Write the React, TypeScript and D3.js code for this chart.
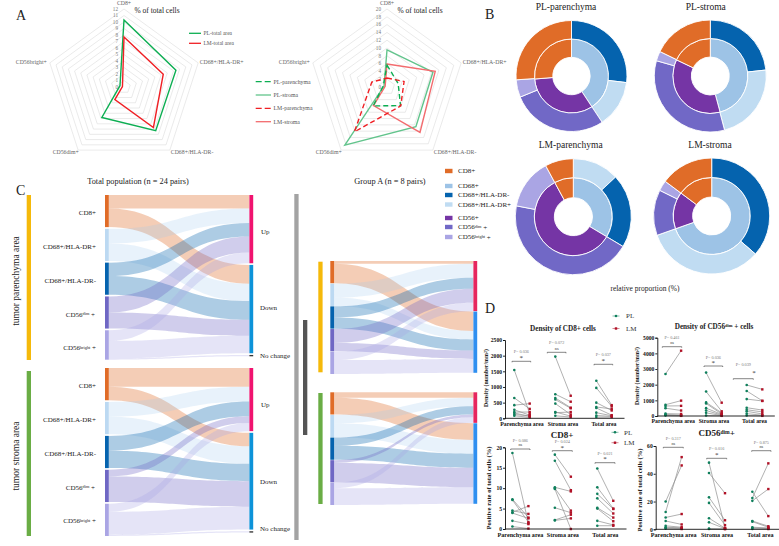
import { useEffect, useRef } from 'react';
import * as d3 from 'd3';

const SERIF = '"Liberation Serif", serif';

// radar data
const radarAxes = ['CD8+', 'CD68+/HLA-DR+', 'CD68+/HLA-DR-', 'CD56dim+', 'CD56bright+'];
const plTotal = [10.3, 8.4, 8.3, 5.8, 0.65];
const lmTotal = [7.7, 6.35, 7.7, 2.4, 0.25];
const plParenchyma = [5.6, 3, 5.9, 6, 1];
const plStroma = [9.5, 12.4, 12.6, 18.4, 0.8];
const lmParenchyma = [2.3, 4.6, 6, 14.2, 4.1];
const lmStroma = [5.9, 13, 14.4, 5.9, 0.5];

// donut data, percent
const outerOrder = ['dr-', 'dr+', 'dim', 'bright', 'cd8'];
const lmParOuterOrder = ['dr+', 'dr-', 'dim', 'bright', 'cd8'];
const innerOrder = ['cd68', 'cd56', 'cd8'];
const plParOuter = [26.9, 13.8, 28.1, 5.1, 26.1];
const plParInner = [40.7, 33, 26.3];
const plStrOuter = [23.3, 22.6, 33.5, 2.8, 17.8];
const plStrInner = [45.8, 36.3, 17.9];
const lmParOuter = [13, 20.6, 44.4, 14.1, 7.9];
const lmParInner = [33.6, 58.5, 7.9];
const lmStrOuter = [36.4, 33.2, 12.7, 2.9, 14.8];
const lmStrInner = [69.6, 15.6, 14.8];

// sankey data, number of pairs per cell subset
const totalParUp = [10, 11, 10, 12, 8];
const totalParDown = [14, 13, 14, 12, 13];
const totalParNone = [0, 0, 0, 0, 1];
const totalStrUp = [14, 11, 11, 5, 6];
const totalStrDown = [10, 13, 13, 19, 17];
const totalStrNone = [0, 0, 0, 0, 1];
const groupParUp = [1, 5, 4, 5, 3];
const groupParDown = [7, 3, 4, 3, 5];
const groupStrUp = [2, 3, 3, 1, 2];
const groupStrDown = [6, 5, 5, 7, 6];

// paired dot plots
const areas = ['Parenchyma area', 'Stroma area', 'Total area'];
const densityCd8PL = [
  [1540, 650, 420, 270, 200, 170, 120, 80],
  [1970, 770, 650, 600, 470, 200, 180, 80],
  [1200, 970, 500, 360, 330, 180, 90, 40],
];
const densityCd8LM = [
  [150, 300, 470, 100, 200, 60, 80, 30],
  [720, 530, 340, 320, 120, 70, 200, 40],
  [420, 380, 250, 300, 100, 80, 60, 40],
];
const densityDimPL = [
  [2680, 720, 640, 500, 150, 90, 60, 30],
  [2770, 1560, 870, 800, 500, 350, 200, 30],
  [1980, 1600, 1080, 530, 400, 300, 150, 30],
];
const densityDimLM = [
  [4170, 980, 650, 350, 130, 50, 30, 10],
  [850, 300, 200, 130, 100, 60, 30, 10],
  [1700, 970, 960, 380, 260, 130, 50, 10],
];
const rateCd8PL = [
  [18.6, 7.3, 7.1, 4.5, 4.1, 3.9, 2, 0.6],
  [18.2, 16.7, 10.2, 10, 9.8, 5.2, 2.2, 2.1],
  [14.8, 10.2, 8.6, 7.5, 5.2, 5, 2, 0.8],
];
const rateCd8LM = [
  [1.4, 2.8, 1.7, 3.7, 5.6, 2.6, 1.2, 0.1],
  [12.8, 9.5, 9.2, 4.5, 0, 4, 3.5, 2.6],
  [6.9, 5, 4.9, 3.8, 2.8, 1.9, 1, 0.8],
];
const rateDimPL = [
  [20, 12.5, 8.5, 6, 2.5, 1.5, 1, 0.5],
  [48, 40.5, 23, 19, 8, 5, 0.5, 0.2],
  [27, 22.5, 20.5, 6, 5.5, 1.5, 1, 0.3],
];
const rateDimLM = [
  [46, 52, 11, 3.5, 1.5, 1, 0.7, 0.2],
  [1, 26, 6.5, 3, 0.8, 0.5, 0.3, 0.1],
  [9.5, 47.5, 29, 2.2, 1.5, 1, 0.5, 0.2],
];

const sliceColor: Record<string, string> = {
  cd8: '#e06c28',
  cd68: '#9dc3e6',
  'dr-': '#0563ae',
  'dr+': '#c0dcf2',
  cd56: '#7535a5',
  dim: '#7168c6',
  bright: '#aaa5e4',
};
const sankeyNodeColor = ['#e06c28', '#bcd9f2', '#0563ae', '#6f67c4', '#aaa5e4'];
const sankeyLinkColor = ['#e06c28', '#9fc9ee', '#0563ae', '#7168c6', '#aaa5e4'];
const sankeyLinkOpacity = [0.34, 0.24, 0.33, 0.33, 0.3];

type Svg = d3.Selection<SVGSVGElement, unknown, null, undefined>;
type G = d3.Selection<any, unknown, null, undefined>;

function label(g: G, x: number, y: number, text: string, size: number, anchor = 'start', fill = '#222', weight = 'normal') {
  return g
    .append('text')
    .attr('x', x)
    .attr('y', y)
    .attr('dy', '0.35em')
    .attr('text-anchor', anchor)
    .attr('font-family', SERIF)
    .attr('font-size', size)
    .attr('font-weight', weight)
    .attr('fill', fill)
    .text(text);
}

// text with a raised part, e.g. CD56 dim +
function supLabel(g: G, x: number, y: number, base: string, sup: string, tail: string, size: number, anchor = 'start', weight = 'normal') {
  const t = label(g, x, y, base, size, anchor, '#222', weight);
  t.append('tspan').attr('dy', '-0.35em').attr('font-size', size * 0.62).text(sup);
  t.append('tspan').attr('dy', '0.25em').text(tail);
  return t;
}

function drawRadar(svg: Svg, cx: number, cy: number, radius: number, max: number, step: number, series: { values: number[]; color: string; dashed: boolean }[]) {
  const g = svg.append('g').attr('transform', `translate(${cx},${cy})`);
  const r = d3.scaleLinear().domain([0, max]).range([0, radius]);
  const angle = d3.scaleLinear().domain([0, radarAxes.length]).range([0, 2 * Math.PI]);
  const ring = d3
    .lineRadial<number>()
    .angle((_, i) => angle(i))
    .radius(d => r(d))
    .curve(d3.curveLinearClosed);

  d3.range(step, max + step, step).forEach(level => {
    g.append('path')
      .attr('d', ring(radarAxes.map(() => level)))
      .attr('fill', 'none')
      .attr('stroke', '#dcdcdc')
      .attr('stroke-width', 0.6);
  });
  d3.range(0, max + step, step).forEach(level => {
    label(g, -6, -r(level), String(level), 5.2, 'end', '#777');
  });
  series.forEach(s => {
    g.append('path')
      .attr('d', ring(s.values))
      .attr('fill', 'none')
      .attr('stroke', s.color)
      .attr('stroke-width', 1.4)
      .attr('stroke-dasharray', s.dashed ? '5 3' : null);
  });
  label(g, 0, -radius - 6, radarAxes[0], 5.8, 'middle', '#666');
  label(g, radius * 0.97, -radius * 0.32, radarAxes[1], 5.8, 'start', '#666');
  label(g, radius * 0.6, radius * 0.83, radarAxes[2], 5.8, 'start', '#666');
  label(g, -radius * 0.58, radius * 0.83, radarAxes[3], 5.8, 'end', '#666');
  label(g, -radius * 0.99, -radius * 0.32, radarAxes[4], 5.8, 'end', '#666');
}

function radarLegend(svg: Svg, x0: number, x1: number, ys: number[], entries: { name: string; color: string; dashed: boolean }[], size: number) {
  entries.forEach((e, i) => {
    svg
      .append('line')
      .attr('x1', x0)
      .attr('x2', x1)
      .attr('y1', ys[i])
      .attr('y2', ys[i])
      .attr('stroke', e.color)
      .attr('stroke-width', 1.3)
      .attr('stroke-dasharray', e.dashed ? '6 3' : null);
    label(svg as any, x1 + 2.5, ys[i], e.name, size, 'start', '#555');
  });
}

function drawDonut(svg: Svg, cx: number, cy: number, r0: number, r1: number, r2: number, title: string, titleX: number, titleY: number, inner: number[], outer: number[], outerKeys: string[]) {
  const g = svg.append('g').attr('transform', `translate(${cx},${cy})`);
  const pie = d3.pie<number>().sort(null);
  const innerArc = d3.arc<d3.PieArcDatum<number>>().innerRadius(r0).outerRadius(r1);
  const outerArc = d3.arc<d3.PieArcDatum<number>>().innerRadius(r1).outerRadius(r2);
  g.selectAll('.inner')
    .data(pie(inner))
    .enter()
    .append('path')
    .attr('d', innerArc)
    .attr('fill', (_, i) => sliceColor[innerOrder[i]])
    .attr('stroke', '#fff')
    .attr('stroke-width', 0.9);
  g.selectAll('.outer')
    .data(pie(outer))
    .enter()
    .append('path')
    .attr('d', outerArc)
    .attr('fill', (_, i) => sliceColor[outerKeys[i]])
    .attr('stroke', '#fff')
    .attr('stroke-width', 0.9);
  label(svg as any, titleX, titleY, title, 9.5, 'middle', '#222');
}

function drawSankey(svg: Svg, x0: number, x1: number, top: number, bottom: number, gap: number, up: number[], down: number[], none: number[], upColor: string, downColor: string) {
  const nodeW = 3.8;
  const counts = [up, down, none];
  const targetSums = counts.map(c => d3.sum(c)).filter(v => v > 0);
  const total = d3.sum(targetSums);
  const sourceSums = up.map((_, i) => up[i] + down[i] + none[i]);
  const k = (bottom - top - gap * (up.length - 1)) / total;
  const h = d3.scaleLinear().domain([0, total]).range([0, total * k]);
  const area = d3
    .area<{ x: number; y0: number; y1: number }>()
    .x(d => d.x)
    .y0(d => d.y0)
    .y1(d => d.y1)
    .curve(d3.curveBumpX);

  const sourceTop: number[] = [];
  let y = top;
  sourceSums.forEach(v => {
    sourceTop.push(y);
    y += h(v) + gap;
  });
  const targetTop: number[] = [];
  y = top;
  targetSums.forEach(v => {
    targetTop.push(y);
    y += h(v) + gap;
  });

  const sourceUsed = sourceSums.map(() => 0);
  const targetUsed = targetSums.map(() => 0);
  up.forEach((_, s) => {
    counts.forEach((c, t) => {
      const v = c[s];
      if (!v) return;
      const sy = sourceTop[s] + sourceUsed[s];
      const ty = targetTop[t] + targetUsed[t];
      sourceUsed[s] += h(v);
      targetUsed[t] += h(v);
      svg
        .append('path')
        .attr(
          'd',
          area([
            { x: x0 + nodeW, y0: sy, y1: sy + h(v) },
            { x: x1, y0: ty, y1: ty + h(v) },
          ])
        )
        .attr('fill', sankeyLinkColor[s])
        .attr('fill-opacity', sankeyLinkOpacity[s]);
    });
  });
  sourceSums.forEach((v, s) => {
    svg.append('rect').attr('x', x0).attr('y', sourceTop[s]).attr('width', nodeW).attr('height', h(v)).attr('fill', sankeyNodeColor[s]);
  });
  const targetColors = [upColor, downColor, '#333'];
  targetSums.forEach((v, t) => {
    svg.append('rect').attr('x', x1).attr('y', targetTop[t]).attr('width', nodeW).attr('height', h(v)).attr('fill', targetColors[t]);
  });
}

function sankeyLabels(svg: Svg, top: number, step: number, upY: number, downY: number, noneY: number) {
  const g = svg as any;
  label(g, 96, top, 'CD8+', 7, 'end');
  label(g, 96, top + step, 'CD68+/HLA-DR+', 7, 'end');
  label(g, 96, top + step * 2, 'CD68+/HLA-DR-', 7, 'end');
  supLabel(g, 95, top + step * 3, 'CD56', 'dim', ' +', 7, 'end');
  supLabel(g, 96, top + step * 4, 'CD56', 'bright', ' +', 7, 'end');
  label(g, 261, upY, 'Up', 7);
  label(g, 260, downY, 'Down', 7);
  label(g, 260, noneY, 'No change', 7);
}

interface PairedOpts {
  left: number;
  right: number;
  axisX: number;
  yTop: number;
  yBottom: number;
  max: number;
  ticks: number[];
  offset: number;
  labelY: number;
  labelSize: number;
  pl: number[][];
  lm: number[][];
  notes: { p: string; mark: string; pY: number; markY: number; barY: number; barX0: number; barX1: number; markX?: number }[];
}

function drawPaired(svg: Svg, o: PairedOpts) {
  const g = svg.append('g');
  const x = d3.scaleBand().domain(areas).range([o.left, o.right]);
  const side = d3.scalePoint().domain(['PL', 'LM']).range([-o.offset, o.offset]);
  const y = d3.scaleLinear().domain([0, o.max]).range([o.yBottom, o.yTop]);
  const cx = (i: number) => (x(areas[i]) ?? 0) + x.bandwidth() / 2;

  o.pl.forEach((vals, a) => {
    vals.forEach((v, j) => {
      g.append('line')
        .attr('x1', cx(a) + (side('PL') ?? 0))
        .attr('x2', cx(a) + (side('LM') ?? 0))
        .attr('y1', y(v))
        .attr('y2', y(o.lm[a][j]))
        .attr('stroke', '#8f8f8f')
        .attr('stroke-width', 0.7);
    });
    g.selectAll(`.pl${a}`)
      .data(vals)
      .enter()
      .append('circle')
      .attr('cx', cx(a) + (side('PL') ?? 0))
      .attr('cy', d => y(d))
      .attr('r', 1.3)
      .attr('fill', '#0f7f5c');
    g.selectAll(`.lm${a}`)
      .data(o.lm[a])
      .enter()
      .append('rect')
      .attr('x', cx(a) + (side('LM') ?? 0) - 1.2)
      .attr('y', d => y(d) - 1.2)
      .attr('width', 2.4)
      .attr('height', 2.4)
      .attr('fill', '#b01227');
  });

  const yAxis = g
    .append('g')
    .attr('transform', `translate(${o.axisX},0)`)
    .call(d3.axisLeft(y).tickValues(o.ticks).tickSize(2).tickPadding(1).tickFormat(d3.format('d')));
  yAxis.selectAll('text').attr('font-family', SERIF).attr('font-weight', 'bold').attr('font-size', 5.6).attr('fill', '#111');
  yAxis.selectAll('path,line').attr('stroke', '#111').attr('stroke-width', 0.9);
  g.append('line').attr('x1', o.axisX).attr('x2', Math.min(o.right, 779)).attr('y1', o.yBottom).attr('y2', o.yBottom).attr('stroke', '#111').attr('stroke-width', 0.9);
  areas.forEach((name, i) => label(g as any, cx(i), o.labelY, name, o.labelSize, 'middle', '#111', 'bold'));

  o.notes.forEach(n => {
    const mid = (n.barX0 + n.barX1) / 2;
    label(g as any, mid, n.pY, n.p, 4.2, 'middle', '#777');
    label(g as any, n.markX ?? mid, n.markY, n.mark, n.mark === '*' ? 7 : 4.2, 'middle', '#333');
    g.append('path')
      .attr('d', `M${n.barX0},${n.barY + 1}V${n.barY}H${n.barX1}V${n.barY + 1}`)
      .attr('fill', 'none')
      .attr('stroke', '#333')
      .attr('stroke-width', 0.6);
  });
}

function dotLegend(svg: Svg, x: number, textX: number, plY: number, lmY: number) {
  const g = svg as any;
  svg.append('line').attr('x1', x - 3.5).attr('x2', x + 3.5).attr('y1', plY).attr('y2', plY).attr('stroke', '#0f7f5c').attr('stroke-width', 0.5);
  svg.append('circle').attr('cx', x).attr('cy', plY).attr('r', 1.3).attr('fill', '#0f7f5c');
  svg.append('line').attr('x1', x - 3.5).attr('x2', x + 3.5).attr('y1', lmY).attr('y2', lmY).attr('stroke', '#b01227').attr('stroke-width', 0.5);
  svg.append('rect').attr('x', x - 1.2).attr('y', lmY - 1.2).attr('width', 2.4).attr('height', 2.4).attr('fill', '#b01227');
  label(g, textX, plY, 'PL', 7, 'start', '#333');
  label(g, textX, lmY, 'LM', 7, 'start', '#333');
}

function rotated(svg: Svg, x: number, y: number, text: string, size: number, weight = 'normal') {
  label(svg as any, 0, 0, text, size, 'middle', '#222', weight).attr('transform', `translate(${x},${y}) rotate(-90)`);
}

export default function App() {
  const svgRef = useRef<SVGSVGElement>(null);

  useEffect(() => {
    if (!svgRef.current) return;
    const svg = d3.select(svgRef.current) as Svg;
    svg.selectAll('*').remove();
    const root = svg as any;

    // panel letters
    label(root, 16, 15, 'A', 14);
    label(root, 485, 14, 'B', 14);
    label(root, 16, 190, 'C', 14);
    label(root, 485, 308, 'D', 14);

    // A: radars
    const green = '#0cae52';
    const red = '#f01f24';
    const softGreen = '#62c48c';
    const softRed = '#f36b6e';
    drawRadar(svg, 124, 87, 78, 12, 1, [
      { values: plTotal, color: green, dashed: false },
      { values: lmTotal, color: red, dashed: false },
    ]);
    label(root, 157, 10, '% of total cells', 7.5, 'middle');
    radarLegend(svg, 189, 201, [33.3, 43.3], [
      { name: 'PL-total area', color: green, dashed: false },
      { name: 'LM-total area', color: red, dashed: false },
    ], 5.5);

    drawRadar(svg, 387, 87, 78, 20, 2, [
      { values: plStroma, color: softGreen, dashed: false },
      { values: lmStroma, color: softRed, dashed: false },
      { values: plParenchyma, color: green, dashed: true },
      { values: lmParenchyma, color: red, dashed: true },
    ]);
    label(root, 420, 10, '% of total cells', 7.5, 'middle');
    radarLegend(svg, 255.7, 271, [81.7, 95, 108.3, 121.7], [
      { name: 'PL-parenchyma', color: green, dashed: true },
      { name: 'PL-stroma', color: softGreen, dashed: false },
      { name: 'LM-parenchyma', color: red, dashed: true },
      { name: 'LM-stroma', color: softRed, dashed: false },
    ], 5.8);

    // B: donuts
    drawDonut(svg, 571.5, 76, 18.7, 37, 55.5, 'PL-parenchyma', 566, 6.7, plParInner, plParOuter, outerOrder);
    drawDonut(svg, 710.3, 76, 19, 37.5, 56, 'PL-stroma', 705.7, 6.7, plStrInner, plStrOuter, outerOrder);
    drawDonut(svg, 573.3, 216.7, 19, 39, 58, 'LM-parenchyma', 570.7, 144.3, lmParInner, lmParOuter, lmParOuterOrder);
    drawDonut(svg, 711.7, 216, 19, 38.5, 58, 'LM-stroma', 710, 144.3, lmStrInner, lmStrOuter, outerOrder);
    label(root, 645, 288, 'relative proportion (%)', 7.5, 'middle');

    // donut / sankey legend
    const legendRows: [string, string, string, string, number][] = [
      ['cd8', 'CD8+', '', '', 171],
      ['cd68', 'CD68+', '', '', 186],
      ['dr-', 'CD68+/HLA-DR-', '', '', 195],
      ['dr+', 'CD68+/HLA-DR+', '', '', 204.5],
      ['cd56', 'CD56+', '', '', 218],
      ['dim', 'CD56', 'dim', ' +', 227],
      ['bright', 'CD56', 'bright', ' +', 237],
    ];
    legendRows.forEach(([key, base, sup, tail, y]) => {
      svg.append('rect').attr('x', 445).attr('y', y - 2.2).attr('width', 7.5).attr('height', 4.4).attr('fill', sliceColor[key]);
      if (sup) supLabel(root, 458, y, base, sup, tail, 7);
      else label(root, 458, y, base, 7);
    });

    // C: sankeys
    label(root, 138, 180.7, 'Total population (n = 24 pairs)', 8.3, 'middle');
    label(root, 390, 180.7, 'Group A (n = 8 pairs)', 8.3, 'middle');
    const yellow = '#f5b90a';
    const bar = '#6aad45';
    const sideBar = (x: number, y0: number, y1: number, fill: string) =>
      svg.append('rect').attr('x', x).attr('y', y0).attr('width', 4.3).attr('height', y1 - y0).attr('fill', fill);
    sideBar(26.7, 195, 360, yellow);
    sideBar(26.7, 371, 536, bar);
    sideBar(318.3, 261.7, 372.3, yellow);
    sideBar(318.3, 393, 504, bar);
    sideBar(294.3, 194, 540, '#a3a3a3');
    sideBar(303, 320, 435, '#555');
    rotated(svg, 15.7, 281, 'tumor parenchyma area', 9.5);
    rotated(svg, 15.7, 456, 'tumor stroma area', 9.5);

    drawSankey(svg, 105, 249.4, 195, 359.7, 1.7, totalParUp, totalParDown, totalParNone, '#f0136f', '#0d93d9');
    drawSankey(svg, 105, 249.4, 368, 536, 1.7, totalStrUp, totalStrDown, totalStrNone, '#f0136f', '#0d93d9');
    drawSankey(svg, 330.3, 473.4, 261, 374, 0.4, groupParUp, groupParDown, [0, 0, 0, 0, 0], '#e6265e', '#2f8ff0');
    drawSankey(svg, 330.3, 473.4, 392.3, 505, 0.4, groupStrUp, groupStrDown, [0, 0, 0, 0, 0], '#e6265e', '#2f8ff0');
    sankeyLabels(svg, 213, 33.7, 231.7, 308, 356);
    sankeyLabels(svg, 386, 33.7, 405, 482, 529);

    // D: paired dot plots
    drawPaired(svg, {
      left: 501.5, right: 624.5, axisX: 505, yTop: 340, yBottom: 418.3, max: 2500,
      ticks: [0, 500, 1000, 1500, 2000, 2500], offset: 7.7, labelY: 423.5, labelSize: 5.8,
      pl: densityCd8PL, lm: densityCd8LM,
      notes: [
        { p: 'P= 0.036', mark: '*', pY: 351.7, markY: 358, barY: 361.3, barX0: 512, barX1: 530.7 },
        { p: 'P= 0.072', mark: 'ns', pY: 342.7, markY: 348.7, barY: 352.3, barX0: 547.3, barX1: 566 },
        { p: 'P= 0.037', mark: '*', pY: 354.3, markY: 361, barY: 364.3, barX0: 594, barX1: 612.7 },
      ],
    });
    drawPaired(svg, {
      left: 653, right: 774.8, axisX: 657.3, yTop: 337.7, yBottom: 416, max: 5000,
      ticks: [0, 1000, 2000, 3000, 4000, 5000], offset: 7.8, labelY: 421, labelSize: 5.8,
      pl: densityDimPL, lm: densityDimLM,
      notes: [
        { p: 'P= 0.461', mark: 'ns', pY: 337.7, markY: 342.3, barY: 346.7, barX0: 662.3, barX1: 681.7 },
        { p: 'P= 0.036', mark: '*', pY: 357.3, markY: 363, barY: 366, barX0: 704, barX1: 722.7 },
        { p: 'P= 0.039', mark: '*', pY: 365, markY: 373, barY: 378.7, barX0: 733.3, barX1: 753.3, markX: 754 },
      ],
    });
    drawPaired(svg, {
      left: 499.2, right: 626.5, axisX: 505, yTop: 447.3, yBottom: 529, max: 20,
      ticks: [0, 5, 10, 15, 20], offset: 8, labelY: 534.5, labelSize: 6.1,
      pl: rateCd8PL, lm: rateCd8LM,
      notes: [
        { p: 'P= 0.086', mark: 'ns', pY: 440.7, markY: 445, barY: 449, barX0: 510.7, barX1: 530 },
        { p: 'P= 0.024', mark: '*', pY: 441.7, markY: 447.5, barY: 450.7, barX0: 552.3, barX1: 572.3 },
        { p: 'P= 0.021', mark: '*', pY: 453.3, markY: 459, barY: 462.7, barX0: 595, barX1: 615 },
      ],
    });
    drawPaired(svg, {
      left: 652, right: 782, axisX: 655.7, yTop: 446, yBottom: 529.3, max: 60,
      ticks: [0, 20, 40, 60], offset: 8, labelY: 535, labelSize: 6.1,
      pl: rateDimPL, lm: rateDimLM,
      notes: [
        { p: 'P= 0.317', mark: 'ns', pY: 439, markY: 443.3, barY: 447.3, barX0: 663.3, barX1: 683.3 },
        { p: 'P= 0.016', mark: '*', pY: 449, markY: 455, barY: 458.3, barX0: 706.7, barX1: 726.7 },
        { p: 'P= 0.875', mark: 'ns', pY: 442.3, markY: 446.7, barY: 450.7, barX0: 751.7, barX1: 771 },
      ],
    });

    label(root, 563, 328, 'Density of CD8+ cells', 7.2, 'middle', '#222', 'bold');
    supLabel(root, 714, 326, 'Density of CD56', 'dim', ' + cells', 7.2, 'middle', 'bold');
    label(root, 562, 435, 'CD8+', 9, 'middle', '#222', 'bold');
    supLabel(root, 716.7, 433, 'CD56', 'dim', '+', 9, 'middle', 'bold');
    dotLegend(svg, 616, 626, 316, 328.5);
    dotLegend(svg, 615, 624, 432.3, 442.7);

    const density = (x: number, y: number) => {
      const t = label(root, 0, 0, 'Density (number/mm', 5.9, 'middle', '#222', 'bold').attr('transform', `translate(${x},${y}) rotate(-90)`);
      t.append('tspan').attr('dy', '-0.3em').attr('font-size', 4).text('2');
      t.append('tspan').attr('dy', '0.2em').text(')');
    };
    density(486, 378);
    density(637, 376);
    rotated(svg, 489, 488, 'Positive rate of total cells (%)', 6.6, 'bold');
    rotated(svg, 640, 490, 'Positive rate of total cells (%)', 6.6, 'bold');
  }, []);

  return <svg ref={svgRef} width={779} height={546} style={{ position: 'absolute', left: 0, top: 0, background: '#fff' }}></svg>;
}
